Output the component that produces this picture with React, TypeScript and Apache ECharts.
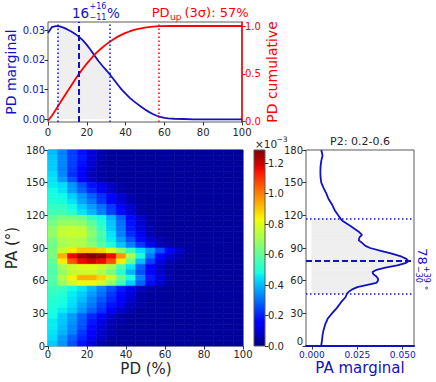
import React, { useEffect, useRef } from 'react';
import * as echarts from 'echarts';

// ---------- PD marginal / cumulative (top panel) ----------
const PD_X = [0, 2, 4, 5, 6, 8, 10, 12, 14, 16, 18, 20, 22, 24, 26, 28, 30, 32, 34, 36, 38, 40, 42, 44, 46, 48, 50, 52, 54, 56, 58, 60, 62, 65, 70, 75, 80, 85, 90, 95, 100];
const PD_MARGINAL = [0.0290, 0.0310, 0.0313, 0.0313, 0.0312, 0.0308, 0.0302, 0.0295, 0.0287, 0.0277, 0.0265, 0.0250, 0.0233, 0.0214, 0.0196, 0.0180, 0.0165, 0.0150, 0.0133, 0.0116, 0.0100, 0.0086, 0.0073, 0.0062, 0.0052, 0.0042, 0.0033, 0.0025, 0.0018, 0.0012, 0.0008, 0.0005, 0.0003, 0.0002, 0.0001, 0, 0, 0, 0, 0, 0];
const PD_CUMULATIVE = [0.01, 0.062, 0.125, 0.157, 0.19, 0.253, 0.316, 0.378, 0.44, 0.50, 0.556, 0.607, 0.655, 0.70, 0.74, 0.776, 0.808, 0.838, 0.865, 0.889, 0.91, 0.928, 0.943, 0.956, 0.967, 0.976, 0.983, 0.989, 0.993, 0.996, 0.998, 0.999, 1.0, 1.0, 1.0, 1.0, 1.0, 1.0, 1.0, 1.0, 1.0];
const PD_MEDIAN = 16;
const PD_LO = 5;
const PD_HI = 32;
const PD_UP = 57;

// ---------- PA marginal (right panel) ----------
const PA_Y = [0, 5, 10, 15, 20, 25, 30, 35, 40, 45, 48, 50, 52, 54, 56, 58, 60, 62, 64, 66, 68, 70, 72, 74, 76, 78, 80, 82, 85, 87, 90, 92, 95, 97, 100, 102, 105, 110, 115, 117, 120, 125, 130, 135, 140, 145, 150, 155, 160, 165, 170, 175, 180];
const PA_MARGINAL = [0.0051, 0.0056, 0.0059, 0.0065, 0.0074, 0.0087, 0.0111, 0.0138, 0.0160, 0.0186, 0.0193, 0.0205, 0.0222, 0.0250, 0.0300, 0.0355, 0.0364, 0.0364, 0.0354, 0.0338, 0.0334, 0.0356, 0.0405, 0.0470, 0.0515, 0.0532, 0.0520, 0.0495, 0.0435, 0.0390, 0.0321, 0.0295, 0.0275, 0.0258, 0.0263, 0.0276, 0.0258, 0.0215, 0.0168, 0.0158, 0.0145, 0.0125, 0.0111, 0.0092, 0.0080, 0.0065, 0.0052, 0.0048, 0.0047, 0.0048, 0.0052, 0.0059, 0.0052];
const PA_MEDIAN = 78;
const PA_LO = 48;
const PA_HI = 117;

// ---------- 2D density (units of 1e-5), rows from PA 175-180 down to PA 0-5 ----------
const HEAT_PD_START = [0, 5, 10, 15, 20, 25, 30, 35, 40, 45, 50, 55, 60, 65, 70, 75, 80, 85, 90, 95];
const HEAT_PA_START = [175, 170, 165, 160, 155, 150, 145, 140, 135, 130, 125, 120, 115, 110, 105, 100, 95, 90, 85, 80, 75, 70, 65, 60, 55, 50, 45, 40, 35, 30, 25, 20, 15, 10, 5, 0];
const HEAT_ROWS = [
  [40, 32, 24, 18, 10, 5, 3, 3, 3, 3, 3, 3, 3, 3, 3, 3, 3, 3, 3, 3],
  [41, 33, 24, 19, 10, 5, 3, 3, 3, 3, 3, 3, 3, 3, 3, 3, 3, 3, 3, 3],
  [42, 33, 24, 18, 9, 4, 3, 3, 3, 3, 3, 3, 3, 3, 3, 3, 3, 3, 3, 3],
  [42, 32, 23, 15, 8, 4, 3, 3, 3, 3, 3, 3, 3, 3, 3, 3, 3, 3, 3, 3],
  [44, 33, 22, 14, 6, 4, 3, 3, 3, 3, 3, 3, 3, 3, 3, 3, 3, 3, 3, 3],
  [45, 36, 26, 15, 8, 4, 3, 3, 3, 3, 3, 3, 3, 3, 3, 3, 3, 3, 3, 3],
  [46, 44, 35, 26, 18, 12, 8, 4, 3, 3, 3, 3, 3, 3, 3, 3, 3, 3, 3, 3],
  [48, 45, 36, 28, 21, 13, 8, 4, 3, 3, 3, 3, 3, 3, 3, 3, 3, 3, 3, 3],
  [49, 48, 42, 35, 28, 22, 14, 9, 5, 3, 3, 3, 3, 3, 3, 3, 3, 3, 3, 3],
  [50, 49, 45, 37, 31, 23, 15, 10, 5, 3, 3, 3, 3, 3, 3, 3, 3, 3, 3, 3],
  [53, 53, 48, 42, 36, 30, 23, 15, 9, 4, 3, 3, 3, 3, 3, 3, 3, 3, 3, 3],
  [55, 55, 51, 45, 39, 32, 24, 17, 9, 4, 3, 3, 3, 3, 3, 3, 3, 3, 3, 3],
  [60, 64, 64, 62, 54, 48, 39, 28, 17, 8, 4, 3, 3, 3, 3, 3, 3, 3, 3, 3],
  [64, 69, 69, 67, 60, 51, 41, 30, 18, 9, 4, 3, 3, 3, 3, 3, 3, 3, 3, 3],
  [67, 75, 76, 75, 64, 54, 42, 31, 19, 10, 5, 3, 3, 3, 3, 3, 3, 3, 3, 3],
  [68, 76, 77, 76, 67, 57, 45, 32, 21, 12, 5, 3, 3, 3, 3, 3, 3, 3, 3, 3],
  [64, 72, 73, 72, 64, 55, 46, 36, 26, 17, 9, 5, 3, 3, 3, 3, 3, 3, 3, 3],
  [62, 71, 73, 72, 67, 59, 50, 41, 32, 23, 13, 6, 4, 3, 3, 3, 3, 3, 3, 3],
  [64, 77, 85, 90, 90, 88, 80, 67, 54, 44, 36, 26, 15, 8, 4, 3, 3, 3, 3, 3],
  [64, 93, 116, 125, 129, 126, 116, 97, 71, 49, 31, 17, 9, 5, 3, 3, 3, 3, 3, 3],
  [60, 85, 106, 116, 120, 116, 106, 85, 62, 40, 24, 12, 6, 4, 3, 3, 3, 3, 3, 3],
  [58, 71, 77, 80, 80, 77, 71, 58, 45, 28, 15, 8, 4, 3, 3, 3, 3, 3, 3, 3],
  [57, 68, 75, 77, 77, 72, 64, 51, 39, 26, 15, 8, 4, 3, 3, 3, 3, 3, 3, 3],
  [58, 73, 84, 93, 93, 88, 77, 62, 49, 32, 19, 10, 5, 3, 3, 3, 3, 3, 3, 3],
  [57, 69, 77, 82, 82, 77, 67, 54, 42, 28, 17, 9, 4, 3, 3, 3, 3, 3, 3, 3],
  [54, 53, 48, 45, 39, 32, 26, 19, 12, 6, 4, 3, 3, 3, 3, 3, 3, 3, 3, 3],
  [53, 51, 46, 42, 36, 30, 23, 17, 10, 5, 3, 3, 3, 3, 3, 3, 3, 3, 3, 3],
  [51, 49, 45, 40, 33, 27, 21, 14, 9, 4, 3, 3, 3, 3, 3, 3, 3, 3, 3, 3],
  [50, 48, 44, 37, 31, 24, 18, 12, 6, 4, 3, 3, 3, 3, 3, 3, 3, 3, 3, 3],
  [49, 46, 42, 35, 28, 22, 15, 9, 5, 3, 3, 3, 3, 3, 3, 3, 3, 3, 3, 3],
  [48, 42, 36, 28, 21, 14, 8, 4, 3, 3, 3, 3, 3, 3, 3, 3, 3, 3, 3, 3],
  [46, 41, 35, 27, 19, 12, 6, 4, 3, 3, 3, 3, 3, 3, 3, 3, 3, 3, 3, 3],
  [46, 40, 33, 26, 17, 10, 5, 3, 3, 3, 3, 3, 3, 3, 3, 3, 3, 3, 3, 3],
  [45, 39, 32, 23, 15, 9, 5, 3, 3, 3, 3, 3, 3, 3, 3, 3, 3, 3, 3, 3],
  [44, 36, 28, 21, 13, 8, 4, 3, 3, 3, 3, 3, 3, 3, 3, 3, 3, 3, 3, 3],
  [42, 35, 26, 18, 10, 5, 3, 3, 3, 3, 3, 3, 3, 3, 3, 3, 3, 3, 3, 3],
];
const HEAT_PD_STEP = 5;
const HEAT_PA_STEP = 5;
const HEAT_MAX = 128.7; // 1.287e-3

// ---------- tick labels ----------
const PD_MARG_TICKS = [0, 0.01, 0.02, 0.03];
const PD_CUM_TICKS = [0, 0.5, 1.0];
const CBAR_TICKS = [0, 0.2, 0.4, 0.6, 0.8, 1.0, 1.2];
const PA_MARG_TICKS = [0, 0.025, 0.05];

// ---------- styling ----------
const FONT = 'DejaVu Sans';
const BLUE = '#1212c4';
const RED = '#ff0000';
const TXT = '#262626';
const FRAME = '#5a5a5a';
const FILL = '#efefef';

function interp(t: number, pts: number[][]) {
  for (let i = 1; i < pts.length; i++) {
    if (t <= pts[i][0]) {
      const [x0, y0] = pts[i - 1];
      const [x1, y1] = pts[i];
      return y0 + ((y1 - y0) * (t - x0)) / (x1 - x0);
    }
  }
  return pts[pts.length - 1][1];
}
function jet(t: number) {
  const r = interp(t, [[0, 0], [0.35, 0], [0.66, 1], [0.89, 1], [1, 0.5]]);
  const g = interp(t, [[0, 0], [0.125, 0], [0.375, 1], [0.64, 1], [0.91, 0], [1, 0]]);
  const b = interp(t, [[0, 0.5], [0.11, 1], [0.34, 1], [0.65, 0], [1, 0]]);
  return `rgb(${Math.round(r * 255)},${Math.round(g * 255)},${Math.round(b * 255)})`;
}
const JET = Array.from({ length: 65 }, (_, i) => jet(i / 64));

function buildOption() {
  const pdLine = PD_X.map((x, i) => [x, PD_MARGINAL[i]]);
  const pdCum = PD_X.map((x, i) => [x, PD_CUMULATIVE[i]]);
  const pdFill = pdLine.filter((p) => p[0] >= PD_LO && p[0] <= PD_HI);
  const paLine = PA_Y.map((y, i) => [PA_MARGINAL[i], y]);
  const paFill = paLine.filter((p) => p[1] >= PA_LO && p[1] <= PA_HI);

  const heat: number[][] = [];
  HEAT_ROWS.forEach((row, r) => {
    row.forEach((v, c) => heat.push([HEAT_PD_START[c], HEAT_PA_START[r], v]));
  });

  const tickLabel = (color: string, extra: any = {}) => ({
    fontSize: 10,
    fontFamily: FONT,
    color,
    margin: 3,
    ...extra,
  });
  const tick = { show: true, length: 3.5, lineStyle: { color: '#333', width: 1 } };
  const noLine = { show: false, onZero: false };

  const cbarGradient = new echarts.graphic.LinearGradient(
    0, 1, 0, 0,
    JET.map((c, i) => ({ offset: i / 64, color: c }))
  );

  const dotted = (color: string) => ({ color, width: 1.5, type: [1.5, 2.5] as any });
  const dashed = (color: string) => ({ color, width: 2, type: [6, 3] as any });

  const text = (t: string, x: number, y: number, size: number, color: string, extra: any = {}) => ({
    type: 'text',
    x,
    y,
    rotation: extra.rotation || 0,
    silent: true,
    style: {
      text: t,
      fontSize: size,
      fontFamily: FONT,
      fill: color,
      align: extra.align || 'center',
      verticalAlign: 'middle',
    },
  });

  return {
    animation: false,
    textStyle: { fontFamily: FONT },
    grid: [
      { left: 48, top: 22, width: 194, height: 100, show: true, borderColor: FRAME, borderWidth: 1, backgroundColor: 'transparent' },
      { left: 48, top: 150, width: 195, height: 196, show: true, borderColor: FRAME, borderWidth: 1, backgroundColor: 'transparent' },
      { left: 254, top: 150, width: 11, height: 196, show: true, borderColor: FRAME, borderWidth: 1, backgroundColor: cbarGradient },
      { left: 306, top: 150, width: 108, height: 196, show: true, borderColor: FRAME, borderWidth: 1, backgroundColor: 'transparent' },
    ],
    xAxis: [
      { gridIndex: 0, type: 'value', min: 0, max: 100, interval: 20, axisLine: noLine, axisTick: tick, axisLabel: tickLabel(TXT, { margin: 5.5 }), splitLine: { show: false } },
      { gridIndex: 1, type: 'value', min: 0, max: 100, interval: 20, axisLine: noLine, axisTick: tick, axisLabel: tickLabel(TXT), splitLine: { show: false } },
      { gridIndex: 2, type: 'value', min: 0, max: 1, show: false },
      {
        gridIndex: 3, type: 'value', min: -0.0032, max: 0.0562,
        axisLine: { show: true, onZero: false, lineStyle: { color: BLUE, width: 2 } },
        axisTick: { ...tick, customValues: PA_MARG_TICKS },
        axisLabel: tickLabel(BLUE, { fontSize: 9, margin: 4, customValues: PA_MARG_TICKS, formatter: (v: number) => v.toFixed(3) }),
        splitLine: { show: false },
      },
    ],
    yAxis: [
      {
        gridIndex: 0, type: 'value', min: -0.0009, max: 0.0327, axisLine: noLine,
        axisTick: { ...tick, customValues: PD_MARG_TICKS },
        axisLabel: tickLabel(BLUE, { customValues: PD_MARG_TICKS, formatter: (v: number) => v.toFixed(2) }),
        splitLine: { show: false },
      },
      {
        gridIndex: 0, type: 'value', position: 'right', min: -0.003, max: 1.042,
        axisLine: { show: true, onZero: false, lineStyle: { color: RED, width: 1.5 } },
        axisTick: { show: true, length: 3.5, lineStyle: { color: RED }, customValues: PD_CUM_TICKS },
        axisLabel: tickLabel(RED, { customValues: PD_CUM_TICKS, formatter: (v: number) => v.toFixed(1) }),
        splitLine: { show: false },
      },
      { gridIndex: 1, type: 'value', min: 0, max: 180, interval: 30, axisLine: noLine, axisTick: tick, axisLabel: tickLabel(TXT), splitLine: { show: false } },
      {
        gridIndex: 2, type: 'value', position: 'right', min: 0, max: HEAT_MAX / 100, axisLine: noLine,
        axisTick: { ...tick, customValues: CBAR_TICKS },
        axisLabel: tickLabel(TXT, { customValues: CBAR_TICKS, formatter: (v: number) => v.toFixed(1) }),
        splitLine: { show: false },
      },
      {
        gridIndex: 3, type: 'value', min: 0, max: 180, interval: 30, axisLine: noLine, axisTick: tick,
        axisLabel: tickLabel(TXT, { verticalAlignMinLabel: 'bottom' }), splitLine: { show: false },
      },
    ],
    visualMap: {
      type: 'continuous',
      show: false,
      seriesIndex: 3,
      dimension: 2,
      min: 0,
      max: HEAT_MAX,
      inRange: { color: JET },
    },
    series: [
      {
        type: 'line', xAxisIndex: 0, yAxisIndex: 0, data: pdFill, symbol: 'none', silent: true,
        lineStyle: { width: 0, opacity: 0 }, areaStyle: { color: FILL, opacity: 1 }, z: 1,
      },
      {
        type: 'line', xAxisIndex: 0, yAxisIndex: 0, data: pdLine, symbol: 'none', silent: true,
        lineStyle: { color: BLUE, width: 1.8 }, z: 4,
        markLine: {
          silent: true, symbol: ['none', 'none'], label: { show: false },
          data: [
            { xAxis: PD_LO, lineStyle: dotted(BLUE) },
            { xAxis: PD_MEDIAN, lineStyle: dashed(BLUE) },
            { xAxis: PD_HI, lineStyle: dotted(BLUE) },
          ],
        },
      },
      {
        type: 'line', xAxisIndex: 0, yAxisIndex: 1, data: pdCum, symbol: 'none', silent: true,
        lineStyle: { color: RED, width: 1.8 }, z: 4,
        markLine: {
          silent: true, symbol: ['none', 'none'], label: { show: false },
          data: [{ xAxis: PD_UP, lineStyle: dotted(RED) }],
        },
      },
      {
        type: 'custom', xAxisIndex: 1, yAxisIndex: 2, data: heat, silent: true,
        encode: { x: 0, y: 1 },
        renderItem: (params: any, api: any) => {
          const x0 = api.value(0);
          const y0 = api.value(1);
          const p1 = api.coord([x0, y0 + HEAT_PA_STEP]);
          const p2 = api.coord([x0 + HEAT_PD_STEP, y0]);
          const c = api.visual('color');
          return {
            type: 'rect',
            shape: { x: p1[0], y: p1[1], width: p2[0] - p1[0], height: p2[1] - p1[1] },
            style: { fill: c, stroke: c, lineWidth: 0.6 },
          };
        },
      },
      {
        type: 'custom', xAxisIndex: 3, yAxisIndex: 4, data: paFill, silent: true, z: 1,
        encode: { x: 0, y: 1 },
        renderItem: (params: any, api: any) => {
          const i = params.dataIndex;
          if (i >= paFill.length - 1) return { type: 'group', children: [] };
          const a = paFill[i];
          const b = paFill[i + 1];
          const pts = [api.coord([0, a[1]]), api.coord([a[0], a[1]]), api.coord([b[0], b[1]]), api.coord([0, b[1]])];
          return { type: 'polygon', shape: { points: pts }, style: { fill: FILL, stroke: FILL, lineWidth: 0.6 } };
        },
      },
      {
        type: 'line', xAxisIndex: 3, yAxisIndex: 4, data: paLine, symbol: 'none', silent: true,
        lineStyle: { color: BLUE, width: 1.8 }, z: 4,
        markLine: {
          silent: true, symbol: ['none', 'none'], label: { show: false },
          data: [
            { yAxis: PA_HI, lineStyle: dotted(BLUE) },
            { yAxis: PA_MEDIAN, lineStyle: dashed(BLUE) },
            { yAxis: PA_LO, lineStyle: dotted(BLUE) },
          ],
        },
      },
      { type: 'line', xAxisIndex: 2, yAxisIndex: 3, data: [], silent: true },
    ],
    graphic: [
      text('16', 80.5, 12.5, 13.5, BLUE),
      text('+16', 89.5, 6.5, 8, BLUE, { align: 'left' }),
      text('−11', 89.5, 17.5, 8, BLUE, { align: 'left' }),
      text('%', 107, 12.5, 13.5, BLUE, { align: 'left' }),
      text('PD', 151.7, 12.5, 13, RED, { align: 'left' }),
      text('up', 170, 16.5, 9, RED, { align: 'left' }),
      text('(3σ): 57%', 184.5, 12.5, 13, RED, { align: 'left' }),
      text('PD marginal', 11, 72, 14, BLUE, { rotation: Math.PI / 2 }),
      text('PD cumulative', 272, 72, 14, RED, { rotation: Math.PI / 2 }),
      text('PA (°)', 12, 248, 15, TXT, { rotation: Math.PI / 2 }),
      text('PD (%)', 146, 369, 15, TXT),
      text('×10', 255, 143.5, 10.5, TXT, { align: 'left' }),
      text('−3', 276.5, 139.5, 7.5, TXT, { align: 'left' }),
      text('P2: 0.2-0.6', 360, 141, 11, TXT),
      text('PA marginal', 360, 368, 15, BLUE),
      text('78', 422, 256.5, 13, BLUE, { rotation: -Math.PI / 2 }),
      text('+39', 426, 274.5, 8, BLUE, { rotation: -Math.PI / 2 }),
      text('−30', 418, 274.5, 8, BLUE, { rotation: -Math.PI / 2 }),
      text('°', 424, 288, 9, BLUE, { rotation: -Math.PI / 2 }),
    ],
  };
}

export default function App() {
  const ref = useRef<HTMLDivElement>(null);
  useEffect(() => {
    if (!ref.current) return;
    const chart = echarts.init(ref.current, undefined, { renderer: 'svg' });
    chart.setOption(buildOption() as any);
    return () => chart.dispose();
  }, []);
  return (
    <div
      ref={ref}
      style={{ position: 'fixed', left: 0, top: 0, width: 436, height: 382, background: '#fff' }}
    />
  );
}
